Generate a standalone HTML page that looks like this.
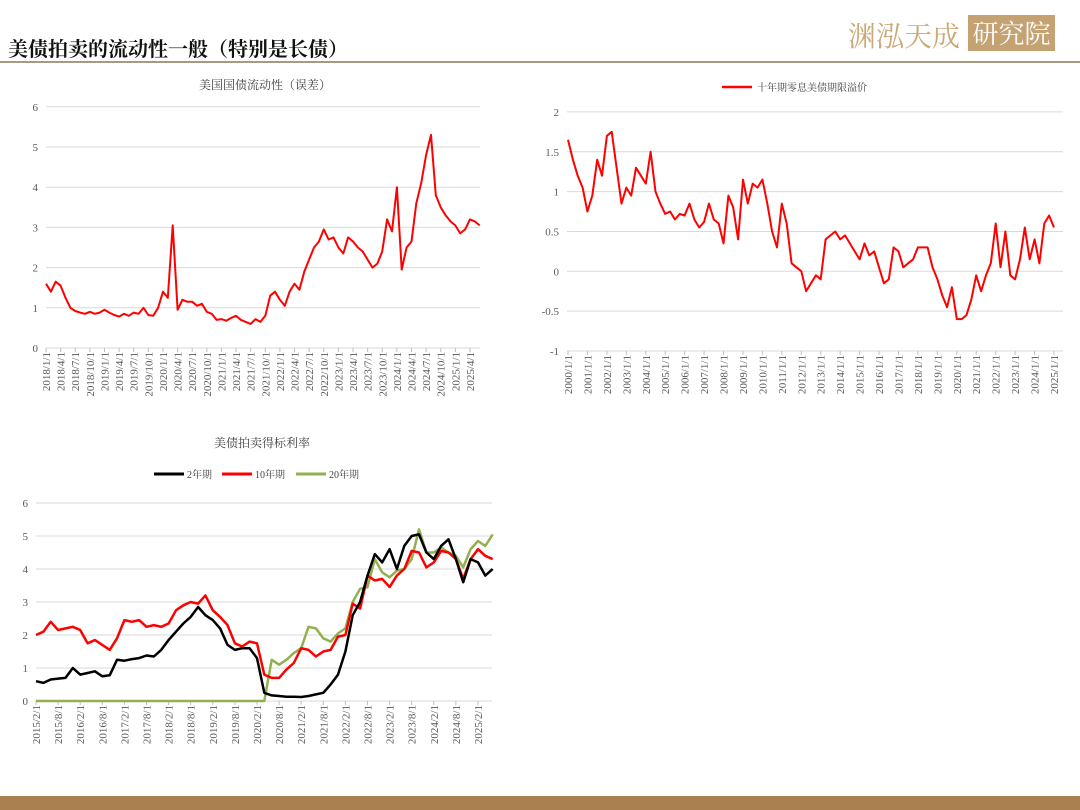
<!DOCTYPE html>
<html><head><meta charset="utf-8">
<style>
html,body{margin:0;padding:0;background:#fff;}
body{width:1080px;height:810px;position:relative;overflow:hidden;font-family:"Liberation Serif","Noto Serif CJK SC",serif;}
#title{position:absolute;left:8px;top:33px;font-size:20px;font-weight:bold;color:#111;font-family:"Liberation Serif","Noto Serif CJK SC",serif;}
#rule{position:absolute;left:0;top:61px;width:1080px;height:2px;background:#a89a82;}
#footer{position:absolute;left:0;top:796px;width:1080px;height:14px;background:#a9804e;}
#logo{position:absolute;left:848px;top:15px;font-size:28px;color:#c9a978;font-family:"Noto Serif CJK SC",serif;}
#logo-box{position:absolute;left:968px;top:15px;width:87px;height:36px;background:#c4a272;color:#fff;font-size:26px;line-height:36px;text-align:center;font-family:"Noto Serif CJK SC",serif;}
svg{position:absolute;left:0;top:0;}
</style></head>
<body>
<div id="title">美债拍卖的流动性一般（特别是长债）</div>
<div id="logo">渊泓天成</div>
<div id="logo-box">研究院</div>
<div id="rule"></div>
<div id="footer"></div>
<svg id="chart" width="1080" height="810"></svg>
<script>
// ---- Chart 1: liquidity (monthly from 2018/1) ----
const liqTicks=["2018/1/1","2018/4/1","2018/7/1","2018/10/1","2019/1/1","2019/4/1","2019/7/1","2019/10/1","2020/1/1","2020/4/1","2020/7/1","2020/10/1","2021/1/1","2021/4/1","2021/7/1","2021/10/1","2022/1/1","2022/4/1","2022/7/1","2022/10/1","2023/1/1","2023/4/1","2023/7/1","2023/10/1","2024/1/1","2024/4/1","2024/7/1","2024/10/1","2025/1/1","2025/4/1"];
const liqValues=[1.6,1.4,1.65,1.55,1.25,1.0,0.92,0.88,0.85,0.9,0.85,0.88,0.95,0.88,0.82,0.78,0.85,0.8,0.88,0.85,1.0,0.82,0.8,1.0,1.4,1.25,3.05,0.95,1.2,1.15,1.15,1.05,1.1,0.9,0.85,0.7,0.72,0.68,0.75,0.8,0.7,0.65,0.6,0.72,0.65,0.8,1.3,1.4,1.2,1.05,1.4,1.6,1.45,1.9,2.2,2.5,2.65,2.95,2.7,2.75,2.5,2.35,2.75,2.65,2.5,2.4,2.2,2.0,2.1,2.4,3.2,2.9,4.0,1.95,2.5,2.65,3.6,4.1,4.8,5.3,3.8,3.5,3.3,3.15,3.05,2.85,2.95,3.2,3.15,3.05];
const liqYTicks=[0,1,2,3,4,5,6];
// ---- Chart 2: term premium (quarterly from 2000) ----
const tpTicks=["2000/1/1","2001/1/1","2002/1/1","2003/1/1","2004/1/1","2005/1/1","2006/1/1","2007/1/1","2008/1/1","2009/1/1","2010/1/1","2011/1/1","2012/1/1","2013/1/1","2014/1/1","2015/1/1","2016/1/1","2017/1/1","2018/1/1","2019/1/1","2020/1/1","2021/1/1","2022/1/1","2023/1/1","2024/1/1","2025/1/1"];
const tpValues=[1.65,1.4,1.2,1.05,0.75,0.95,1.4,1.2,1.7,1.75,1.3,0.85,1.05,0.95,1.3,1.2,1.1,1.5,1.0,0.85,0.72,0.75,0.65,0.72,0.7,0.85,0.65,0.55,0.62,0.85,0.65,0.6,0.35,0.95,0.8,0.4,1.15,0.85,1.1,1.05,1.15,0.85,0.5,0.3,0.85,0.6,0.1,0.05,0.0,-0.25,-0.15,-0.05,-0.1,0.4,0.45,0.5,0.4,0.45,0.35,0.25,0.15,0.35,0.2,0.25,0.05,-0.15,-0.1,0.3,0.25,0.05,0.1,0.15,0.3,0.3,0.3,0.05,-0.1,-0.3,-0.45,-0.2,-0.6,-0.6,-0.55,-0.35,-0.05,-0.25,-0.05,0.1,0.6,0.05,0.5,-0.05,-0.1,0.15,0.55,0.15,0.4,0.1,0.6,0.7,0.55];
const tpYTicks=[-1,-0.5,0,0.5,1,1.5,2];
// ---- Chart 3: auction yields (bimonthly from 2015/2) ----
const aucTicks=["2015/2/1","2015/8/1","2016/2/1","2016/8/1","2017/2/1","2017/8/1","2018/2/1","2018/8/1","2019/2/1","2019/8/1","2020/2/1","2020/8/1","2021/2/1","2021/8/1","2022/2/1","2022/8/1","2023/2/1","2023/8/1","2024/2/1","2024/8/1","2025/2/1"];
const y2Values=[0.6,0.55,0.65,0.68,0.7,1.0,0.8,0.85,0.9,0.75,0.78,1.25,1.22,1.27,1.3,1.38,1.35,1.55,1.85,2.1,2.35,2.55,2.85,2.6,2.45,2.2,1.7,1.55,1.6,1.6,1.3,0.25,0.17,0.15,0.13,0.13,0.12,0.15,0.2,0.25,0.5,0.8,1.5,2.6,3.0,3.8,4.45,4.2,4.6,4.0,4.7,5.0,5.05,4.5,4.3,4.7,4.9,4.3,3.6,4.3,4.2,3.8,4.0];
const y10Values=[2.0,2.1,2.4,2.15,2.2,2.25,2.15,1.75,1.85,1.7,1.55,1.9,2.45,2.4,2.45,2.25,2.3,2.25,2.35,2.75,2.9,3.0,2.95,3.2,2.75,2.55,2.3,1.75,1.65,1.8,1.75,0.8,0.7,0.7,0.95,1.15,1.6,1.55,1.35,1.5,1.55,1.95,2.0,2.95,2.8,3.8,3.65,3.7,3.45,3.8,4.0,4.55,4.5,4.05,4.2,4.55,4.5,4.3,3.7,4.3,4.6,4.4,4.3];
const y20Values=[0,0,0,0,0,0,0,0,0,0,0,0,0,0,0,0,0,0,0,0,0,0,0,0,0,0,0,0,0,0,0,0,1.25,1.1,1.25,1.45,1.6,2.25,2.2,1.9,1.8,2.05,2.2,3.0,3.4,3.45,4.3,3.9,3.75,3.95,4.0,4.3,5.2,4.5,4.5,4.65,4.5,4.4,4.05,4.6,4.85,4.7,5.05];
const aucYTicks=[0,1,2,3,4,5,6];

const NS="http://www.w3.org/2000/svg";
const svg=document.getElementById('chart');
function mk(tag,attrs,parent){const e=document.createElementNS(NS,tag);for(const k in attrs)e.setAttribute(k,attrs[k]);(parent||svg).appendChild(e);return e;}

function axes(cfg){
  const g=mk('g',{});
  
  
  cfg.yTicks.forEach(v=>{
    const y=cfg.ys(v);
    const l=mk('line',{x1:cfg.x0,x2:cfg.x1,y1:y,y2:y,stroke:'#d9d9d9','stroke-width':1},g);
    
    
    const t=mk('text',{x:cfg.x0-8,y:y+4,'text-anchor':'end','font-size':11,fill:'#595959'},g);
    t.textContent=String(v);
    
    
  });
  const ay=cfg.ys(cfg.axisVal);
  cfg.ticks.forEach((lab,i)=>{
    const x=cfg.tx(i);
    mk('line',{x1:x,x2:x,y1:ay,y2:ay+4,stroke:'#bfbfbf','stroke-width':1},g);
    const t=mk('text',{transform:`translate(${x+4},${ay+4}) rotate(-90)`,'text-anchor':'end','font-size':11,fill:'#595959'},g);
    t.textContent=lab;
    
    
  });
}
function series(vals,xs,ys,color,w,name){
  const d=vals.map((v,i)=>(i?'L':'M')+xs(i).toFixed(1)+','+ys(v).toFixed(1)).join('');
  const p=mk('path',{d:d,fill:'none',stroke:color,'stroke-width':w,'stroke-linejoin':'round'});
  
  
}
function text(x,y,s,size,name,anchor){
  const t=mk('text',{x:x,y:y,'font-size':size,fill:'#404040','text-anchor':anchor||'middle'});
  t.textContent=s;
  
  
}

// Chart 1
const c1ys=v=>348-v*40.2;
axes({name:'liquidity',x0:46,x1:480,ys:c1ys,yTicks:liqYTicks,ticks:liqTicks,tx:i=>46+i*14.62,axisVal:0});
series(liqValues,i=>46+i*4.873,c1ys,'#ff0000',2,'liquidity-line');
text(265,89,'美国国债流动性（误差）',12,'liquidity-chart-title');

// Chart 2
const c2ys=v=>271.3-v*79.7;
axes({name:'term-premium',x0:567,x1:1063,ys:c2ys,yTicks:tpYTicks,ticks:tpTicks,tx:i=>568+i*19.44,axisVal:-1});
series(tpValues,i=>568+i*19.44/4,c2ys,'#ff0000',2,'term-premium-line');
const lg=mk('line',{x1:722,x2:752,y1:87,y2:87,stroke:'#ff0000','stroke-width':2.5});


text(757,91,'十年期零息美债期限溢价',10,'legend-term-premium','start');

// Chart 3
const c3ys=v=>701-v*33;
const c3m=3.683;
axes({name:'auction',x0:36,x1:492,ys:c3ys,yTicks:aucYTicks,ticks:aucTicks,tx:i=>36+i*6*c3m,axisVal:0});
series(y20Values,i=>36+i*2*c3m,c3ys,'#92b050',2.5,'series-20y');
series(y10Values,i=>36+i*2*c3m,c3ys,'#ff0000',2.5,'series-10y');
series(y2Values,i=>36+i*2*c3m,c3ys,'#000000',2.5,'series-2y');
text(262,447,'美债拍卖得标利率',12,'auction-chart-title');
[[154,'#000000','2年期','legend-2y'],[222,'#ff0000','10年期','legend-10y'],[296,'#92b050','20年期','legend-20y']].forEach(a=>{
  const l=mk('line',{x1:a[0],x2:a[0]+30,y1:474,y2:474,stroke:a[1],'stroke-width':3});
  
  
  text(a[0]+33,478,a[2],10,a[3],'start');
});
</script>
</body></html>
